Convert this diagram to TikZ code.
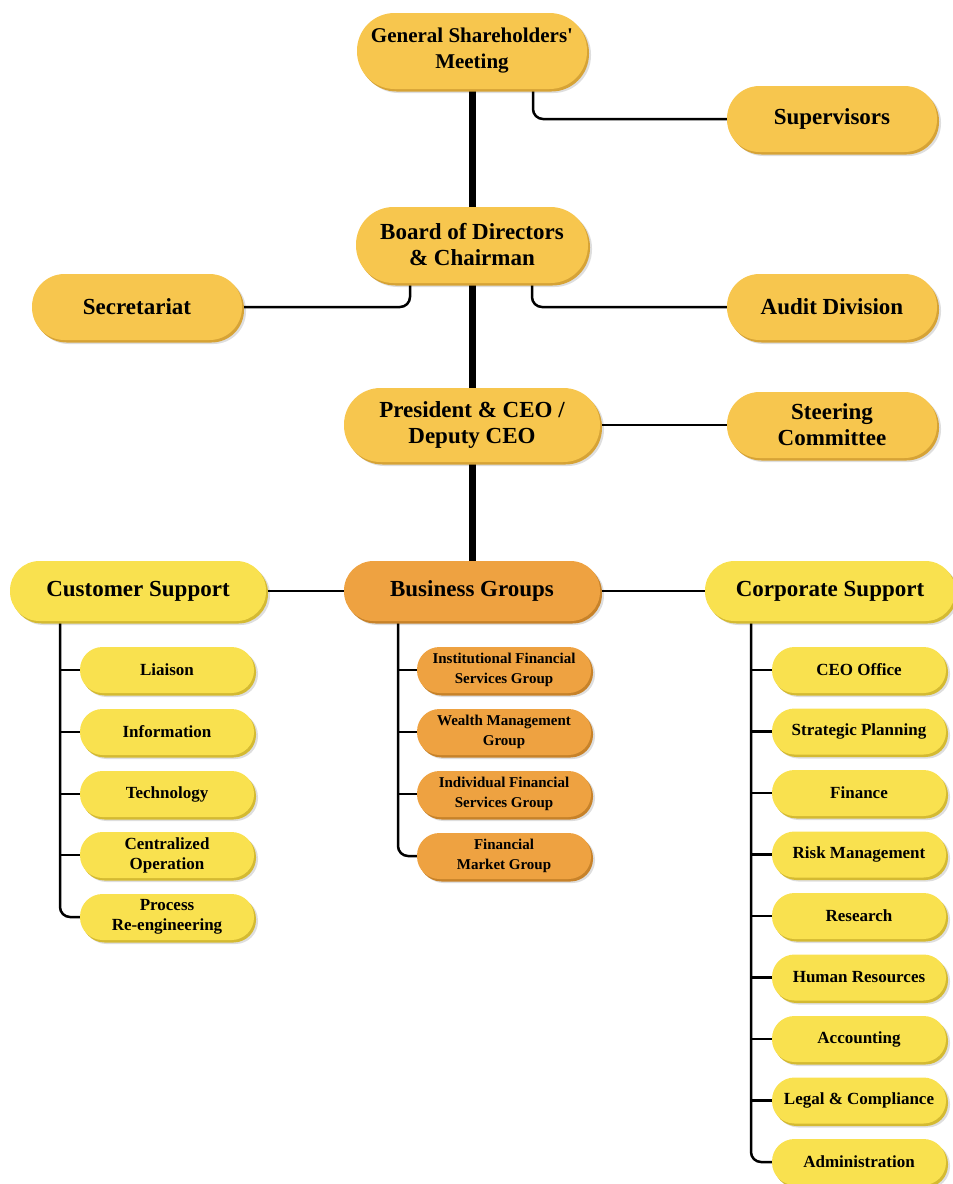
\documentclass[tikz,border=0pt]{standalone}
\usepackage{fontspec}
\setmainfont{Liberation Serif}
\usetikzlibrary{shadows,backgrounds}
\definecolor{gold}{HTML}{F7C64E}
\definecolor{goldrim}{HTML}{D6A336}
\definecolor{lemon}{HTML}{F9E14F}
\definecolor{lemonrim}{HTML}{D4BA32}
\definecolor{orng}{HTML}{EEA241}
\definecolor{orngrim}{HTML}{C78229}
\tikzset{
  box/.style={rectangle, align=center, inner sep=0pt, text=black,
    general shadow={shadow xshift=4pt, shadow yshift=-4pt, fill=black, opacity=0.13}},
  goldbox/.style={box, fill=gold, general shadow={shadow xshift=2pt, shadow yshift=-2.5pt, fill=goldrim}},
  lemonbox/.style={box, fill=lemon, general shadow={shadow xshift=2pt, shadow yshift=-2.5pt, fill=lemonrim}},
  orngbox/.style={box, fill=orng, general shadow={shadow xshift=2pt, shadow yshift=-2.5pt, fill=orngrim}},
  bigpill/.style={minimum height=76pt, rounded corners=37.5pt, font=\bfseries\fontsize{23}{26}\selectfont},
  sidepill/.style={minimum width=210pt, minimum height=66pt, rounded corners=32.5pt, font=\bfseries\fontsize{23}{26}\selectfont},
  midpill/.style={minimum height=60pt, rounded corners=29.5pt, font=\bfseries\fontsize{23}{26}\selectfont},
  childpill/.style={minimum width=174pt, minimum height=46pt, rounded corners=22.5pt, font=\bfseries\fontsize{17}{20}\selectfont},
  bizchild/.style={childpill, font=\bfseries\fontsize{15}{19.5}\selectfont},
  conn/.style={line width=2.5pt, rounded corners=10pt},
  trunk/.style={line width=7pt}
}
\begin{document}
\begin{tikzpicture}[x=1pt,y=-1pt]
\useasboundingbox (0,0) rectangle (953,1184);
% top
\node[goldbox,bigpill,minimum width=230pt,font=\bfseries\fontsize{21}{26}\selectfont] (gsm) at (472,51) {General Shareholders\textquotesingle\\Meeting};
\node[goldbox,sidepill] (sup) at (832,119) {Supervisors};
\node[goldbox,bigpill,minimum width=232pt] (bd) at (472,245) {Board of Directors\\\& Chairman};
\node[goldbox,sidepill] (sec) at (137,307) {Secretariat};
\node[goldbox,sidepill] (aud) at (832,307) {Audit Division};
\node[goldbox,bigpill,minimum width=256pt,minimum height=74pt,rounded corners=36.5pt] (pres) at (472,425) {President \& CEO /\\Deputy CEO};
\node[goldbox,sidepill] (steer) at (832,425) {Steering\\Committee};
% row 3
\node[lemonbox,midpill,minimum width=256pt] (cs) at (138,591) {Customer Support};
\node[orngbox,midpill,minimum width=256pt] (bg) at (472,591) {Business Groups};
\node[lemonbox,midpill,minimum width=250pt] (corp) at (830,591) {Corporate Support};
% customer children
\node[lemonbox,childpill] (c1) at (167,670) {Liaison};
\node[lemonbox,childpill] (c2) at (167,732) {Information};
\node[lemonbox,childpill] (c3) at (167,794) {Technology};
\node[lemonbox,childpill] (c4) at (167,855) {Centralized\\Operation};
\node[lemonbox,childpill] (c5) at (167,917) {Process\\Re-engineering};
% business children
\node[orngbox,bizchild] (b1) at (504,670) {Institutional Financial\\Services Group};
\node[orngbox,bizchild] (b2) at (504,732) {Wealth Management\\Group};
\node[orngbox,bizchild] (b3) at (504,794) {Individual Financial\\Services Group};
\node[orngbox,bizchild] (b4) at (504,856) {Financial\\Market Group};
% corporate children
\node[lemonbox,childpill] (p1) at (859,670) {CEO Office};
\node[lemonbox,childpill] (p2) at (859,731.5) {Strategic Planning};
\node[lemonbox,childpill] (p3) at (859,793) {Finance};
\node[lemonbox,childpill] (p4) at (859,854.5) {Risk Management};
\node[lemonbox,childpill] (p5) at (859,916) {Research};
\node[lemonbox,childpill] (p6) at (859,977.5) {Human Resources};
\node[lemonbox,childpill] (p7) at (859,1039) {Accounting};
\node[lemonbox,childpill] (p8) at (859,1100.5) {Legal \& Compliance};
\node[lemonbox,childpill] (p9) at (859,1162) {Administration};
% connectors
\begin{scope}[on background layer]
\coordinate (cst) at (60,591);
\coordinate (bgt) at (398,591);
\coordinate (cpt) at (751,591);
\draw[trunk] (gsm.center) -- (bg.center);
\draw[conn] ([xshift=61pt]gsm.center) |- (sup.west);
\draw[conn] ([xshift=-62pt]bd.center) |- (sec.east);
\draw[conn] ([xshift=60pt]bd.center) |- (aud.west);
\draw[conn] (pres.center) -- (steer.west);
\draw[conn] (cs.center) -- (corp.center);
\draw[conn] (cst) |- (c5.west);
\foreach \n in {c1,c2,c3,c4} \draw[conn] (\n.west) -- (\n.west -| cst);
\draw[conn] (bgt) |- (b4.west);
\foreach \n in {b1,b2,b3} \draw[conn] (\n.west) -- (\n.west -| bgt);
\draw[conn] (cpt) |- (p9.west);
\foreach \n in {p1,p2,p3,p4,p5,p6,p7,p8} \draw[conn] (\n.west) -- (\n.west -| cpt);
\end{scope}
\end{tikzpicture}
\end{document}
